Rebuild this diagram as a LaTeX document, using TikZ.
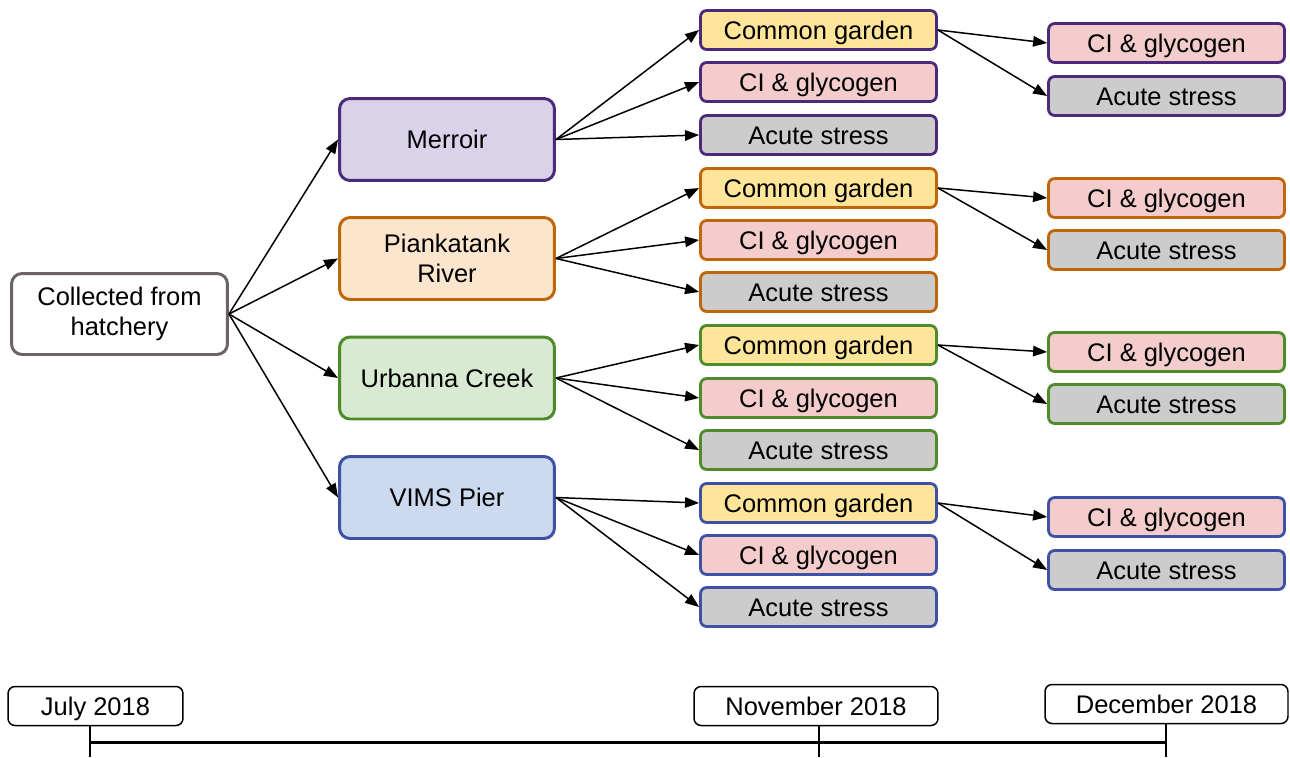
\documentclass[tikz,border=0pt]{standalone}
\usepackage{fontspec}
\setmainfont{Liberation Sans}
\usetikzlibrary{shapes.geometric, arrows.meta, calc, positioning}
\definecolor{hatchline}{HTML}{6B6464}
\definecolor{merroirline}{HTML}{4B2A7B}
\definecolor{merroirfill}{HTML}{D9D2E9}
\definecolor{piankline}{HTML}{C0660A}
\definecolor{piankfill}{HTML}{FCE5CD}
\definecolor{urbline}{HTML}{4F8A2B}
\definecolor{urbfill}{HTML}{D9EAD3}
\definecolor{vimsline}{HTML}{3F51A5}
\definecolor{vimsfill}{HTML}{CCDAF0}
\definecolor{gardenfill}{HTML}{FFE599}
\definecolor{glycofill}{HTML}{F4CCCC}
\definecolor{stressfill}{HTML}{CCCCCC}
\tikzstyle{site} = [rectangle, rounded corners=6pt, line width=1.7pt, minimum width=4.3cm, minimum height=1.64cm, text centered, align=center]
\tikzstyle{task} = [rectangle, rounded corners=3.5pt, line width=1.6pt, minimum width=4.72cm, minimum height=0.78cm, text centered, inner sep=0pt, text height=12pt, text depth=1.2pt]
\tikzstyle{garden} = [task, fill=gardenfill]
\tikzstyle{glyco} = [task, fill=glycofill]
\tikzstyle{stress} = [task, fill=stressfill]
\tikzstyle{date} = [rectangle, rounded corners=4pt, line width=0.85pt, draw=black, minimum height=0.78cm, inner sep=0pt, text height=12pt, text depth=0.8pt]
\tikzstyle{arrow} = [line width=0.85pt, -{Triangle[length=8pt, width=6pt]}]

\begin{document}
\begin{tikzpicture}[x=0.02cm, y=-0.02cm, font=\fontsize{14.5}{17.5}\selectfont]
	\useasboundingbox (0,0) rectangle (1290,757);
	\node (Hatchery) [site, draw=hatchline, fill=white, minimum width=4.32cm, minimum height=1.62cm] at (119.5,314) {Collected from\\hatchery};
	% sites
	\node (Merroir) [site, draw=merroirline, fill=merroirfill] at (447,139.5) {Merroir};
	\node (Piank) [site, draw=piankline, fill=piankfill] at (447,258.5) {Piankatank\\River};
	\node (Urbanna) [site, draw=urbline, fill=urbfill] at (447,378) {Urbanna Creek};
	\node (Vims) [site, draw=vimsline, fill=vimsfill] at (447,497.5) {VIMS Pier};
	% Merroir
	\node (MerroirGarden) [garden, draw=merroirline] at (818.5,30) {Common garden};
	\node (MerroirGlyco) [glyco, draw=merroirline] at (818.5,82) {CI \& glycogen};
	\node (MerroirStress) [stress, draw=merroirline] at (818.5,135) {Acute stress};
	\node (MerroirGlyco2) [glyco, draw=merroirline] at (1166.5,43) {CI \& glycogen};
	\node (MerroirStress2) [stress, draw=merroirline] at (1166.5,96) {Acute stress};
	% Piankatank
	\node (PiankGarden) [garden, draw=piankline] at (818.5,188) {Common garden};
	\node (PiankGlyco) [glyco, draw=piankline] at (818.5,240) {CI \& glycogen};
	\node (PiankStress) [stress, draw=piankline] at (818.5,292) {Acute stress};
	\node (PiankGlyco2) [glyco, draw=piankline] at (1166.5,198) {CI \& glycogen};
	\node (PiankStress2) [stress, draw=piankline] at (1166.5,250) {Acute stress};
	% Urbanna
	\node (UrbannaGarden) [garden, draw=urbline] at (818.5,345) {Common garden};
	\node (UrbannaGlyco) [glyco, draw=urbline] at (818.5,398) {CI \& glycogen};
	\node (UrbannaStress) [stress, draw=urbline] at (818.5,450) {Acute stress};
	\node (UrbannaGlyco2) [glyco, draw=urbline] at (1166.5,352) {CI \& glycogen};
	\node (UrbannaStress2) [stress, draw=urbline] at (1166.5,404) {Acute stress};
	% VIMS
	\node (VimsGarden) [garden, draw=vimsline] at (818.5,503) {Common garden};
	\node (VimsGlyco) [glyco, draw=vimsline] at (818.5,555) {CI \& glycogen};
	\node (VimsStress) [stress, draw=vimsline] at (818.5,607) {Acute stress};
	\node (VimsGlyco2) [glyco, draw=vimsline] at (1166.5,517) {CI \& glycogen};
	\node (VimsStress2) [stress, draw=vimsline] at (1166.5,570) {Acute stress};
	% arrows
	\draw [arrow] (Hatchery.east) -- (Merroir.west);
	\draw [arrow] (Hatchery.east) -- (Piank.west);
	\draw [arrow] (Hatchery.east) -- (Urbanna.west);
	\draw [arrow] (Hatchery.east) -- (Vims.west);
	\draw [arrow] (Merroir.east) -- (MerroirGarden.west);
	\draw [arrow] (Merroir.east) -- (MerroirGlyco.west);
	\draw [arrow] (Merroir.east) -- (MerroirStress.west);
	\draw [arrow] (MerroirGarden.east) -- (MerroirGlyco2.west);
	\draw [arrow] (MerroirGarden.east) -- (MerroirStress2.west);
	\draw [arrow] (Piank.east) -- (PiankGarden.west);
	\draw [arrow] (Piank.east) -- (PiankGlyco.west);
	\draw [arrow] (Piank.east) -- (PiankStress.west);
	\draw [arrow] (PiankGarden.east) -- (PiankGlyco2.west);
	\draw [arrow] (PiankGarden.east) -- (PiankStress2.west);
	\draw [arrow] (Urbanna.east) -- (UrbannaGarden.west);
	\draw [arrow] (Urbanna.east) -- (UrbannaGlyco.west);
	\draw [arrow] (Urbanna.east) -- (UrbannaStress.west);
	\draw [arrow] (UrbannaGarden.east) -- (UrbannaGlyco2.west);
	\draw [arrow] (UrbannaGarden.east) -- (UrbannaStress2.west);
	\draw [arrow] (Vims.east) -- (VimsGarden.west);
	\draw [arrow] (Vims.east) -- (VimsGlyco.west);
	\draw [arrow] (Vims.east) -- (VimsStress.west);
	\draw [arrow] (VimsGarden.east) -- (VimsGlyco2.west);
	\draw [arrow] (VimsGarden.east) -- (VimsStress2.west);
	% timeline
	\node (July) [date, minimum width=3.5cm] at (95.5,706) {July 2018};
	\node (November) [date, minimum width=4.88cm] at (816,706) {November 2018};
	\node (December) [date, minimum width=4.86cm] at (1166.5,704) {December 2018};
	\coordinate (JulyTick) at (90,742);
	\coordinate (NovemberTick) at (819,742);
	\coordinate (DecemberTick) at (1166,742);
	\coordinate (Bottom) at (0,757);
	\draw [line width=1.7pt] (JulyTick) -- (DecemberTick);
	\draw [line width=1.2pt] (JulyTick |- July.south) -- (JulyTick |- Bottom);
	\draw [line width=1.2pt] (NovemberTick |- November.south) -- (NovemberTick |- Bottom);
	\draw [line width=1.2pt] (DecemberTick |- December.south) -- (DecemberTick |- Bottom);
\end{tikzpicture}
\end{document}
